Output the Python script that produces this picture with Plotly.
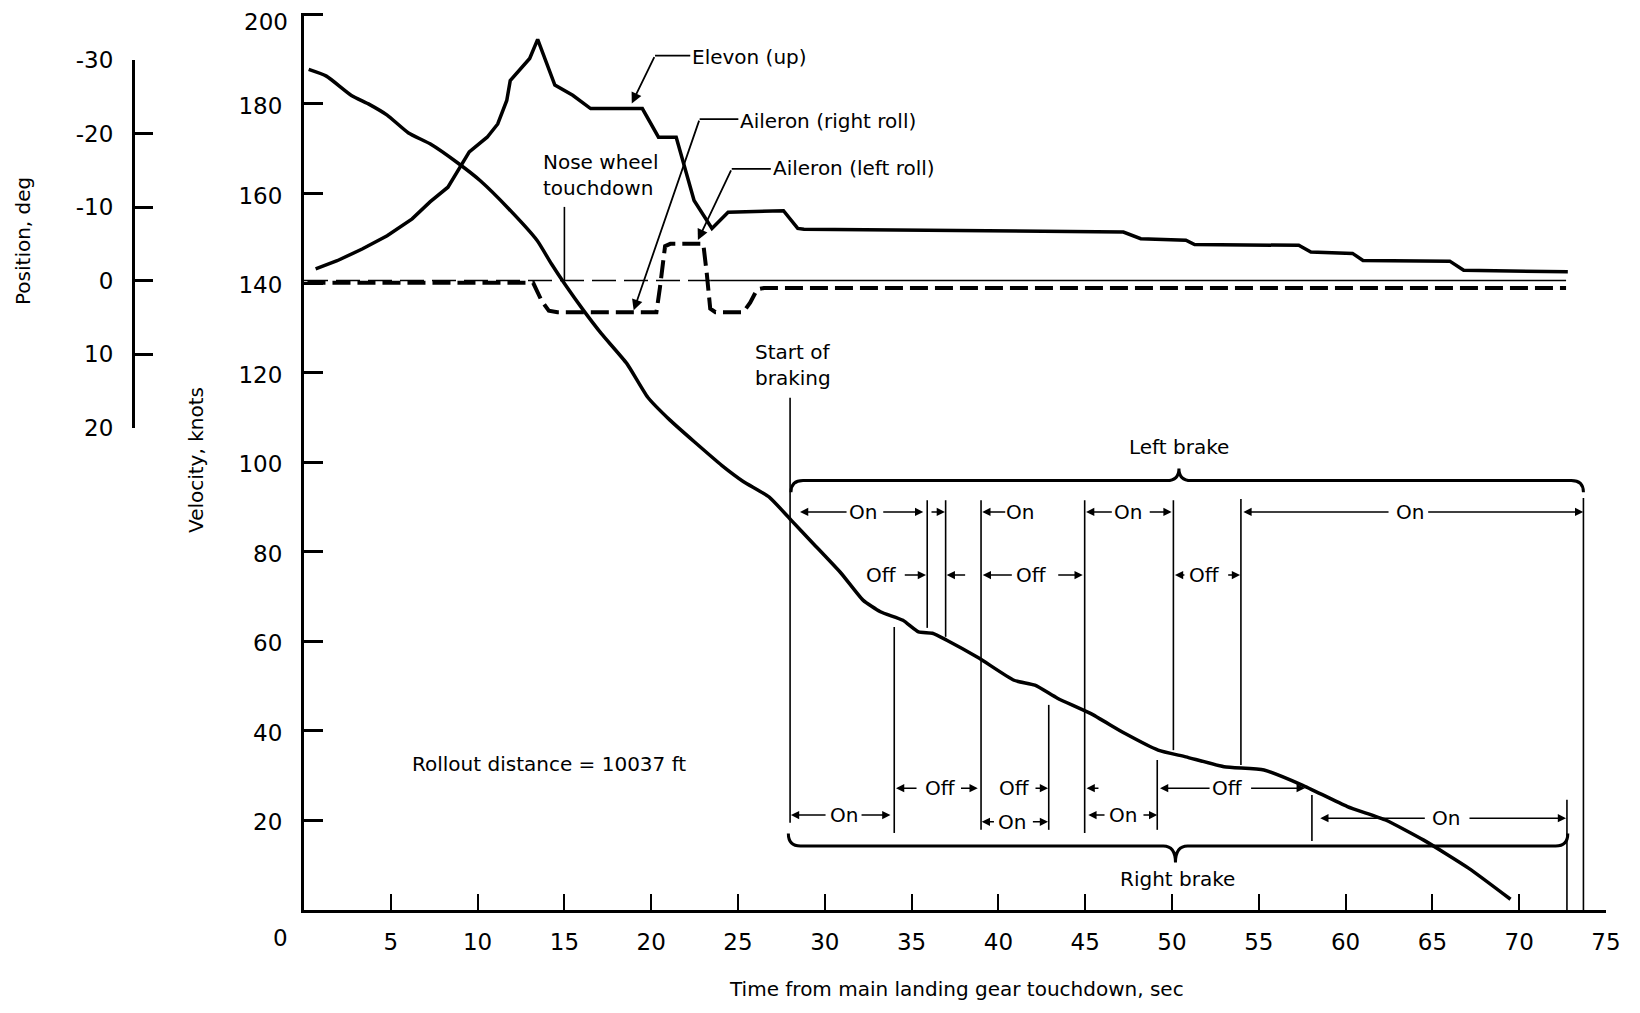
import plotly.graph_objects as go

# ---------------- data ----------------
vel_t = [0.27, 1.29, 2.73, 3.76, 4.79, 6.02, 7.26, 8.9, 10.14, 11.79, 13.43, 14.25, 15.07,
         16.1, 17.13, 18.6, 19.8, 21.05, 22.5, 24.06, 25.3, 26.8, 28.06, 29.34, 30.94,
         32.2, 33.2, 34.5, 35.4, 36.2, 37.0, 38.9, 40.9, 42.1, 43.4, 45.3, 47.3, 49.2,
         50.8, 53.0, 55.3, 57.5, 60.1, 62.3, 64.5, 67.1, 69.5]
vel_knots = [187.7, 186.2, 181.9, 179.9, 177.5, 173.5, 171.1, 166.7, 162.9, 156.6, 149.5,
             144.3, 139.5, 133.9, 128.7, 122.0, 114.5, 109.5, 104.5, 99.3, 95.7, 92.2, 87.05,
             81.8, 75.2, 69.2, 66.6, 64.7, 62.1, 61.8, 60.3, 56.2, 51.3, 50.2, 47.3, 43.9,
             39.4, 35.7, 34.2, 32.0, 31.25, 27.9, 23.1, 20.1, 15.6, 9.3, 2.4]

elevon_t = [0.67, 1.91, 3.35, 4.79, 6.23, 7.26, 8.29, 9.52, 10.55, 11.16, 11.68, 11.88,
            13.0, 13.46, 14.45, 15.48, 16.51, 19.49, 20.42, 21.44, 22.47, 23.5, 24.43,
            27.62, 28.44, 28.8, 47.2, 48.2, 50.8, 51.3, 57.3, 58.0, 60.4, 61.0, 66.0,
            66.8, 72.8]
elevon_deg = [-1.6, -2.7, -4.3, -6.1, -8.4, -10.7, -12.7, -17.5, -19.5, -21.3, -24.5,
              -27.2, -30.2, -32.8, -26.6, -25.2, -23.4, -23.4, -19.5, -19.5, -10.9, -7.1,
              -9.3, -9.5, -7.1, -7.0, -6.6, -5.7, -5.5, -4.9, -4.8, -3.9, -3.7, -2.75,
              -2.65, -1.4, -1.2]

aileron_t = [0.2, 13.2, 13.7, 14.1, 14.6, 20.3, 20.5, 20.8, 21.1, 23.0, 23.2, 23.4, 23.7,
             25.3, 25.7, 26.1, 26.5, 72.7]
aileron_deg = [0.3, 0.3, 2.8, 4.1, 4.3, 4.3, 1.0, -4.7, -5.0, -5.0, -1.0, 3.8, 4.3,
               4.3, 3.0, 1.2, 1.0, 1.0]

zero_ref_dash_t = [0.0, 23.4]
zero_ref_solid_t = [23.4, 72.7]

x_tick_vals = [5, 10, 15, 20, 25, 30, 35, 40, 45, 50, 55, 60, 65, 70, 75]
v_tick_vals = [20, 40, 60, 80, 100, 120, 140, 160, 180, 200]
v_tick_text = ["20", "40", "60", "80", "100", "120", "140", "160", "180", ""]
v_top_label = "200"
pos_tick_vals = [-30, -20, -10, 0, 10, 20]
pos_tick_text = ["-30", "-20", "-10", "0", "10", "20"]

# brake event lines: (time, top knots, bottom knots)
brake_lines = [(28.0, 114.4, 19.5), (35.9, 91.5, 63.0), (36.96, 91.5, 61.0),
               (39.0, 91.5, 17.9), (44.97, 91.5, 17.2), (50.08, 91.5, 35.7),
               (53.97, 91.8, 32.4), (73.7, 92.0, 0.0), (34.0, 63.2, 17.2),
               (42.9, 45.8, 17.9), (49.15, 33.5, 17.9), (58.06, 25.7, 15.4),
               (72.75, 24.6, 0.0)]
# brake arrows: (tail time, head time, knots)
brake_arrows = [(31.34, 28.57, 88.9), (33.28, 35.67, 88.9), (36.06, 36.92, 88.9),
                (40.48, 39.07, 88.9), (46.62, 45.05, 88.9), (48.63, 49.98, 88.9),
                (62.56, 54.11, 88.9), (64.67, 73.69, 88.9),
                (34.52, 35.83, 74.8), (38.17, 37.02, 74.8), (40.86, 39.1, 74.8),
                (43.36, 44.86, 74.8), (50.8, 50.17, 74.8), (53.15, 53.92, 74.8),
                (35.37, 34.1, 27.2), (37.76, 38.81, 27.2), (42.05, 42.86, 27.2),
                (45.85, 45.08, 27.2), (52.25, 49.31, 27.2), (54.47, 57.65, 27.2),
                (30.13, 28.05, 21.2), (32.03, 33.78, 21.2), (39.83, 39.04, 19.7),
                (41.9, 42.86, 19.7), (46.2, 45.18, 21.2), (48.27, 49.15, 21.2),
                (64.65, 58.54, 20.5), (67.05, 72.7, 20.5)]
# brake labels: (time, knots, text)
brake_labels = [(32.22, 88.9, "On"), (41.24, 88.9, "On"), (47.48, 88.9, "On"),
                (63.7, 88.9, "On"), (33.28, 74.8, "Off"), (41.92, 74.8, "Off"),
                (51.9, 74.8, "Off"), (36.64, 27.2, "Off"), (40.94, 27.2, "Off"),
                (53.2, 27.2, "Off"), (31.08, 21.2, "On"), (40.78, 19.7, "On"),
                (47.15, 21.2, "On"), (65.77, 20.5, "On")]
# braces: (t start, t end, t centre, knots at ends, knots of bar, knots at tip)
left_brace = (28.05, 73.7, 50.4, 93.3, 95.9, 98.6)
right_brace = (27.9, 72.8, 50.2, 17.1, 14.3, 10.6)

# ---------------- geometry (page pixels; the page body adds an 8 px margin) ----------------
BODY = 8
W, H = 1640 - 2 * BODY, 1013 - 2 * BODY
PLOT_L, PLOT_R, PLOT_T, PLOT_B = 60, 1606, 13, 910   # page pixels of plot box
X0_PX = 304                                          # page pixel of t = 0
ML, MR = PLOT_L - BODY, (1640 - BODY) - PLOT_R
MT, MB = PLOT_T - BODY, (1013 - BODY) - PLOT_B
PW, PH = W - ML - MR, H - MT - MB
POS_AXIS_PX = 133
POS_TOP_PX, POS_BOT_PX = 60, 427.7
V_MAX = 200.3   # small headroom so the 200 tick is drawn at the top of the axis


def px_x(px):
    return (px - PLOT_L) / PW


def px_y(py):
    return (PLOT_B - py) / PH


x_dom0 = px_x(X0_PX)
d0, d1 = px_y(POS_BOT_PX), px_y(POS_TOP_PX)
deg_per_frac = 50.0 / (d1 - d0)
y2_range = [20 + d0 * deg_per_frac, 20 - (1 - d0) * deg_per_frac]

FONT = "DejaVu Sans"
BLACK = "black"

fig = go.Figure()
fig.add_trace(go.Scatter(x=vel_t, y=vel_knots, mode="lines",
                         line=dict(color=BLACK, width=3.5, shape="spline", smoothing=0.5),
                         hoverinfo="skip", showlegend=False))
fig.add_trace(go.Scatter(x=elevon_t, y=elevon_deg, yaxis="y2", mode="lines",
                         line=dict(color=BLACK, width=3.5), showlegend=False))
fig.add_trace(go.Scatter(x=aileron_t, y=aileron_deg, yaxis="y2", mode="lines",
                         line=dict(color=BLACK, width=4, dash="18px,7px"), showlegend=False))
fig.add_trace(go.Scatter(x=zero_ref_dash_t, y=[0, 0], yaxis="y3", mode="lines",
                         line=dict(color=BLACK, width=1.5, dash="24px,8px"), showlegend=False))
fig.add_trace(go.Scatter(x=zero_ref_solid_t, y=[0, 0], yaxis="y3", mode="lines",
                         line=dict(color=BLACK, width=1.5), showlegend=False))

shapes = []
for t, vt, vb in brake_lines:
    shapes.append(dict(type="line", xref="x", yref="y", x0=t, x1=t, y0=vb, y1=vt,
                       line=dict(color=BLACK, width=1.6)))
# nose wheel touchdown line
shapes.append(dict(type="line", xref="x", yref="y", x0=15.0, x1=15.0, y0=140.5, y1=157.0,
                   line=dict(color=BLACK, width=1.6)))


def brace(b):
    t0, t1, tc, ve, vh, vp = b
    d = 0.7
    return (f"M {t0},{ve} Q {t0},{vh} {t0 + d},{vh} L {tc - d},{vh} "
            f"Q {tc},{vh} {tc},{vp} Q {tc},{vh} {tc + d},{vh} L {t1 - d},{vh} "
            f"Q {t1},{vh} {t1},{ve}")


for b in (left_brace, right_brace):
    shapes.append(dict(type="path", xref="x", yref="y", path=brace(b),
                       line=dict(color=BLACK, width=3)))

leaders = [  # (t bend, t text, knots, t head, knots head)
    (20.22, 22.25, 190.8, 18.88, 180.1),
    (22.79, 25.02, 176.6, 18.99, 133.9),
    (24.64, 26.89, 165.5, 22.69, 149.6),
]
for tb, tt, v, th, vh in leaders:
    shapes.append(dict(type="line", xref="x", yref="y", x0=tb, x1=tt, y0=v, y1=v,
                       line=dict(color=BLACK, width=1.8)))

ann = []
for tb, tt, v, th, vh in leaders:
    ann.append(dict(x=th, y=vh, ax=tb, ay=v, xref="x", yref="y", axref="x", ayref="y",
                    text="", showarrow=True, arrowhead=2, arrowsize=1.2, arrowwidth=1.8,
                    arrowcolor=BLACK, standoff=0, startstandoff=0))
for tt, th, v in brake_arrows:
    ann.append(dict(x=th, y=v, ax=tt, ay=v, xref="x", yref="y", axref="x", ayref="y",
                    text="", showarrow=True, arrowhead=2, arrowsize=1.1, arrowwidth=1.5,
                    arrowcolor=BLACK, standoff=0, startstandoff=0))

lab_font = dict(family=FONT, size=20, color=BLACK)
for t, v, s in brake_labels:
    ann.append(dict(x=t, y=v, xref="x", yref="y", text=s, showarrow=False,
                    font=lab_font, xanchor="center", yanchor="middle"))

text_items = [
    (22.25, 190.4, "Elevon (up)", "left"),
    (25.02, 176.1, "Aileron (right roll)", "left"),
    (26.89, 165.6, "Aileron (left roll)", "left"),
    (13.63, 164.1, "Nose wheel<br>touchdown", "left"),
    (25.86, 121.65, "Start of<br>braking", "left"),
    (50.4, 103.4, "Left brake", "center"),
    (50.3, 6.9, "Right brake", "center"),
    (14.1, 32.7, "Rollout distance = 10037 ft", "center"),
]
for t, v, s, anc in text_items:
    ann.append(dict(x=t, y=v, xref="x", yref="y", text=s, showarrow=False, font=lab_font,
                    xanchor=anc, yanchor="middle", align="left"))

tick_font = dict(family=FONT, size=23, color=BLACK)

# axis titles, origin label and the top velocity label (kept inside the page)
ann.append(dict(x=px_x(23), y=px_y(241), xref="paper", yref="paper",
                text="Position, deg", textangle=-90, showarrow=False, font=lab_font,
                xanchor="center", yanchor="middle"))
ann.append(dict(x=px_x(196), y=px_y(460), xref="paper", yref="paper",
                text="Velocity, knots", textangle=-90, showarrow=False, font=lab_font,
                xanchor="center", yanchor="middle"))
ann.append(dict(x=px_x(957), y=px_y(989), xref="paper", yref="paper",
                text="Time from main landing gear touchdown, sec", showarrow=False,
                font=lab_font, xanchor="center", yanchor="middle"))
ann.append(dict(x=px_x(280), y=px_y(938), xref="paper", yref="paper",
                text="0", showarrow=False, font=tick_font,
                xanchor="center", yanchor="middle"))
ann.append(dict(x=px_x(289), y=px_y(BODY), xref="paper", yref="paper",
                text=v_top_label, showarrow=False, font=tick_font,
                xanchor="right", yanchor="top", borderpad=0))

fig.update_layout(
    template="none",
    width=W, height=H,
    margin=dict(l=ML, r=MR, t=MT, b=MB, pad=0, autoexpand=False),
    paper_bgcolor="white", plot_bgcolor="rgba(0,0,0,0)",
    showlegend=False,
    xaxis=dict(domain=[x_dom0, 1], range=[0, 75], tickvals=x_tick_vals,
               ticks="inside", ticklen=16, tickwidth=2, tickcolor=BLACK,
               showline=True, linewidth=3, linecolor=BLACK, showgrid=False, zeroline=False,
               tickfont=tick_font, ticklabelstandoff=9, automargin=False,
               ticklabeloverflow="allow"),
    yaxis=dict(range=[0, V_MAX], tickvals=v_tick_vals, ticktext=v_tick_text,
               ticks="inside", ticklen=19,
               tickwidth=2.5, tickcolor=BLACK, showline=True, linewidth=3,
               linecolor=BLACK, showgrid=False, zeroline=False, tickfont=tick_font,
               ticklabelstandoff=14, ticklabelshift=2, automargin=False,
               ticklabeloverflow="allow"),
    yaxis2=dict(range=y2_range, overlaying="y", visible=False, showgrid=False,
                zeroline=False, automargin=False),
    yaxis3=dict(domain=[d0, d1], range=[20, -30], anchor="free",
                position=px_x(POS_AXIS_PX), side="left",
                tickvals=pos_tick_vals, ticktext=pos_tick_text, ticks="inside",
                ticklen=18, tickwidth=2.5, tickcolor=BLACK, showline=True, linewidth=3,
                linecolor=BLACK, showgrid=False, zeroline=False, tickfont=tick_font,
                ticklabelstandoff=14, automargin=False, ticklabeloverflow="allow"),
    shapes=shapes,
    annotations=ann,
)

fig.write_html("out.html")
